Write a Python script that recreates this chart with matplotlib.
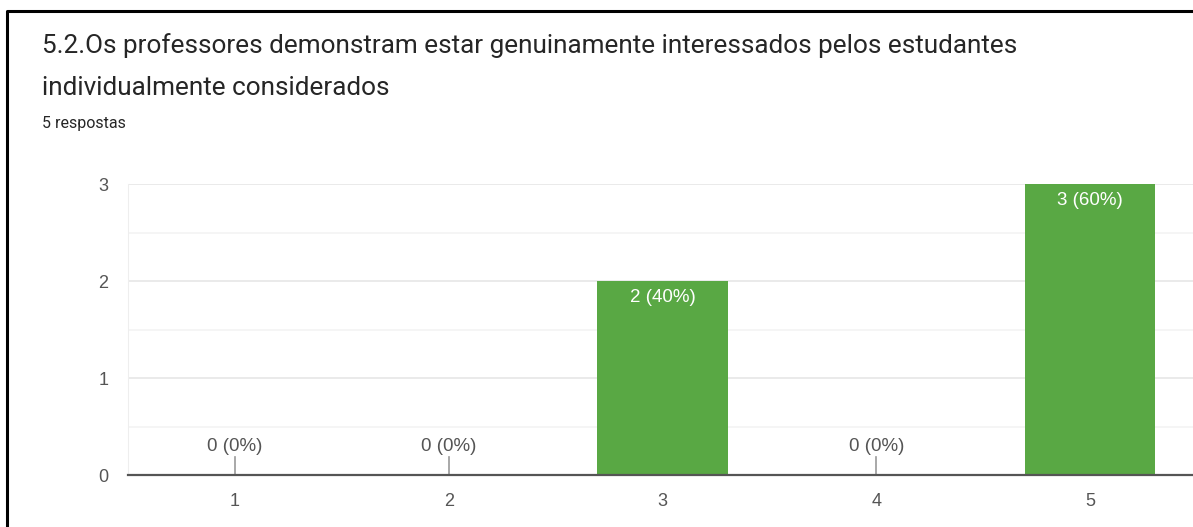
import matplotlib
matplotlib.use("Agg")
import matplotlib.pyplot as plt
from matplotlib.lines import Line2D

categories = ["1", "2", "3", "4", "5"]
counts = [0, 0, 2, 0, 3]
total = 5
title_lines = ["5.2.Os professores demonstram estar genuinamente interessados pelos estudantes",
               "individualmente considerados"]
subtitle = "5 respostas"

W, H = 1193, 527
chart_font = ["Liberation Sans", "DejaVu Sans"]
title_font = ["Roboto", "DejaVu Sans"]

fig = plt.figure(figsize=(W / 100, H / 100), dpi=100)
fig.patch.set_facecolor("white")

# plot area in pixels: x 128 -> 1197, y 184 -> 475
ax = fig.add_axes([128 / W, 1 - 475 / H, (1197 - 128) / W, (475 - 184) / H])
positions = list(range(1, len(categories) + 1))
ax.bar(positions, counts, width=0.61, color="#59a844", zorder=3)

ax.set_xlim(0.5, 5.5)
ax.set_ylim(0, 3)
ax.set_yticks([0, 1, 2, 3])
ax.set_yticks([0.5, 1.5, 2.5], minor=True)
ax.set_xticks(positions)
ax.set_xticklabels(categories)
ax.grid(axis="y", which="major", color="#e6e6e6", linewidth=1.2, zorder=0)
ax.grid(axis="y", which="minor", color="#f3f3f3", linewidth=1.2, zorder=0)
ax.tick_params(axis="both", which="both", length=0, labelsize=13, labelcolor="#555555")
ax.tick_params(axis="y", pad=14)
ax.tick_params(axis="x", pad=13)
for lbl in ax.get_xticklabels() + ax.get_yticklabels():
    lbl.set_family(chart_font)
for side in ["top", "right"]:
    ax.spines[side].set_visible(False)
ax.spines["left"].set_color("#eeeeee")
ax.spines["bottom"].set_color("#555555")
ax.spines["bottom"].set_linewidth(1.6)
ax.spines["bottom"].set_zorder(4)

for x, c in zip(positions, counts):
    label = f"{c} ({c / total * 100:.0f}%)"
    if c == 0:
        ax.plot([x, x], [0, 0.19], color="#999999", linewidth=1.2, zorder=3)
        ax.annotate(label, (x, 0), xytext=(0, 20.5), textcoords="offset points",
                    ha="center", va="center", fontsize=13.5, color="#555555",
                    family=chart_font)
    else:
        ax.annotate(label, (x, c), xytext=(0, -12), textcoords="offset points",
                    ha="center", va="center", fontsize=13.5, color="white", zorder=5,
                    family=chart_font)

fig.text(42 / W, 1 - 53 / H, title_lines[0], fontsize=18.8, color="#262626",
         ha="left", va="baseline", family=title_font)
fig.text(42 / W, 1 - 95 / H, title_lines[1], fontsize=18.8, color="#262626",
         ha="left", va="baseline", family=title_font)
fig.text(42 / W, 1 - 128 / H, subtitle, fontsize=11.5, color="#262626",
         ha="left", va="baseline", family=title_font)

# black frame around the screenshot
fig.add_artist(Line2D([7 / W, 7 / W, 1.0], [0, 1 - 11 / H, 1 - 11 / H],
                      transform=fig.transFigure, color="black", linewidth=2.2))

fig.savefig("out.png", dpi=100)
